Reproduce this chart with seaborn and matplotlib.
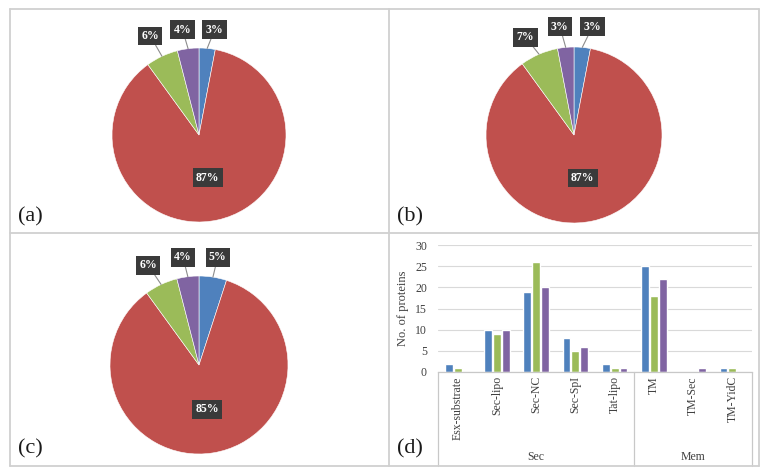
import numpy as np
import pandas as pd
import matplotlib
matplotlib.use("Agg")
import matplotlib.pyplot as plt
from matplotlib.lines import Line2D
import seaborn as sns

# ---------------- data ----------------
pie_slices = ["blue", "main", "green", "purple"]
pie_a = [3, 87, 6, 4]
pie_b = [3, 87, 7, 3]
pie_c = [5, 85, 6, 4]

categories = ["Esx-substrate", "Sec-lipo", "Sec-NC", "Sec-SpI", "Tat-lipo",
              "TM", "TM-Sec", "TM-YidC"]
groups = ["Sec", "Sec", "Sec", "Sec", "Sec", "Mem", "Mem", "Mem"]
series_names = ["s1", "s2", "s3"]
counts_s1 = [2, 10, 19, 8, 2, 25, 0, 1]
counts_s2 = [1, 9, 26, 5, 1, 18, 0, 1]
counts_s3 = [0, 10, 20, 6, 1, 22, 1, 0]
y_ticks = [0, 5, 10, 15, 20, 25, 30]
panel_labels = ["(a)", "(b)", "(c)", "(d)"]

# ---------------- style ----------------
BLUE, RED, GREEN, PURPLE = "#4F81BD", "#C0504D", "#9BBB59", "#8064A2"
pie_colors = [BLUE, RED, GREEN, PURPLE]
bar_colors = [BLUE, GREEN, PURPLE]

sns.set_style("white")
plt.rcParams["font.family"] = ["Liberation Serif", "DejaVu Serif"]

W, H = 766, 474
fig = plt.figure(figsize=(W / 100, H / 100), dpi=100)
fig.patch.set_facecolor("white")


def fx(px):
    return px / W


def fy(py):
    return 1 - py / H


# panel frames
frame_col = "#d0d0d0"
for (x0, y0, x1, y1) in [(10, 9, 759, 9), (10, 466, 759, 466), (10, 9, 10, 466),
                         (759, 9, 759, 466), (389, 9, 389, 466), (10, 233, 759, 233)]:
    fig.add_artist(Line2D([fx(x0), fx(x1)], [fy(y0), fy(y1)], color=frame_col, lw=1.3))

box_style = dict(boxstyle="square,pad=0.28", fc="#3a3a3a", ec="none")


def draw_pie(values, cx, cy, r, small_offsets, big_offset):
    ax = fig.add_axes([fx(cx - r), fy(cy + r), 2 * r / W, 2 * r / H])
    wedges, _ = ax.pie(values, colors=pie_colors, startangle=90, counterclock=False,
                       wedgeprops=dict(edgecolor="white", linewidth=0.4))
    ax.set_xlim(-1, 1)
    ax.set_ylim(-1, 1)
    ax.set_aspect("equal")
    ax.axis("off")
    for i, (w, v) in enumerate(zip(wedges, values)):
        txt = f"{v}%"
        if i == 1:
            ax.text(big_offset[0], big_offset[1], txt, ha="center", va="center",
                    color="white", fontsize=8.5, fontweight="bold", bbox=box_style)
        else:
            mid = np.deg2rad((w.theta1 + w.theta2) / 2)
            xy = (np.cos(mid), np.sin(mid))
            ax.annotate(txt, xy=xy, xytext=small_offsets[i], ha="center", va="center",
                        color="white", fontsize=8.5, fontweight="bold", bbox=box_style,
                        annotation_clip=False,
                        arrowprops=dict(arrowstyle="-", color="#8c8c8c", lw=0.8,
                                        shrinkA=0, shrinkB=0))
    return ax


draw_pie(pie_a, 199, 135, 87,
         {0: (0.18, 1.21), 3: (-0.19, 1.21), 2: (-0.56, 1.14)}, (0.10, -0.49))
draw_pie(pie_b, 574, 135, 88,
         {0: (0.21, 1.23), 3: (-0.16, 1.23), 2: (-0.55, 1.11)}, (0.10, -0.49))
draw_pie(pie_c, 199, 365, 89,
         {0: (0.21, 1.21), 3: (-0.18, 1.21), 2: (-0.57, 1.12)}, (0.09, -0.50))

# panel labels
for lab, (px, py) in zip(panel_labels, [(18, 217), (397, 217), (18, 449), (397, 449)]):
    fig.text(fx(px), fy(py), lab, fontsize=16, ha="left", va="center", color="#1a1a1a")

# ---------------- bar chart ----------------
df = pd.DataFrame({
    "category": categories * 3,
    "series": np.repeat(series_names, len(categories)),
    "count": counts_s1 + counts_s2 + counts_s3,
})

left, right, top, bot = 438, 752, 245, 372
axb = fig.add_axes([fx(left), fy(bot), (right - left) / W, (bot - top) / H])
sns.barplot(data=df, x="category", y="count", hue="series", order=categories,
            hue_order=series_names, palette=bar_colors, width=0.68, gap=0.12,
            legend=False, ax=axb, saturation=1)
axb.set_xlim(-0.5, len(categories) - 0.5)
axb.set_ylim(0, 30)
axb.set_yticks(y_ticks)
axb.set_yticklabels([str(t) for t in y_ticks], fontsize=8.5, color="#404040")
axb.yaxis.grid(True, color="#d9d9d9", lw=0.8)
axb.set_axisbelow(True)
for s in ["top", "right", "left"]:
    axb.spines[s].set_visible(False)
axb.spines["bottom"].set_color("#c8c8c8")
axb.spines["bottom"].set_linewidth(0.9)
axb.tick_params(axis="y", length=0, pad=8)
axb.tick_params(axis="x", length=0, pad=3)
axb.set_xticks(range(len(categories)))
axb.set_xticklabels(categories, rotation=90, fontsize=8.5, color="#404040", va="top")
axb.set_xlabel("")
axb.set_ylabel("No. of proteins", fontsize=9, color="#404040", labelpad=4)

# group separators & group labels (multi-level axis)
trans = axb.get_xaxis_transform()
sep_depth = -(466 - bot) / (bot - top)
group_edges = [-0.5]
for i in range(1, len(groups)):
    if groups[i] != groups[i - 1]:
        group_edges.append(i - 0.5)
group_edges.append(len(groups) - 0.5)
for xe in group_edges:
    axb.plot([xe, xe], [0, sep_depth], transform=trans, color="#c8c8c8", lw=0.9,
             clip_on=False)
label_y = -(457 - bot) / (bot - top)
for g0, g1 in zip(group_edges[:-1], group_edges[1:]):
    name = groups[int(g0 + 0.5)]
    axb.text((g0 + g1) / 2, label_y, name, transform=trans, ha="center", va="center",
             fontsize=8.5, color="#404040")

fig.savefig("out.png", dpi=100)
